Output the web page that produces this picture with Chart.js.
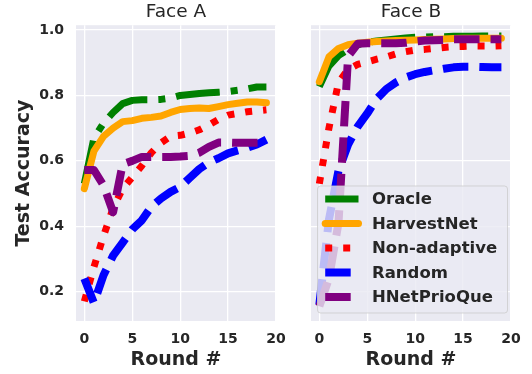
<!DOCTYPE html>
<html>
<head>
<meta charset="utf-8">
<script src="https://cdn.jsdelivr.net/npm/chart.js@4.4.0/dist/chart.umd.min.js"></script>
<style>
  html, body { margin: 0; padding: 0; background: #ffffff; }
  #wrap { position: relative; width: 532px; height: 374px; }
  #wrap canvas { position: absolute; left: 0; top: 0; }
</style>
</head>
<body>
<div id="wrap">
  <canvas id="faceA" width="532" height="374"></canvas>
  <canvas id="faceB" width="532" height="374"></canvas>
</div>
<script>
// data
var rounds = [0, 1, 2, 3, 4, 5, 6, 7, 8, 9, 10, 11, 12, 13, 14, 15, 16, 17, 18, 19];
var xTicks = [0, 5, 10, 15, 20];
var yTicks = [0.2, 0.4, 0.6, 0.8, 1.0];
var methods = ["Oracle", "HarvestNet", "Non-adaptive", "Random", "HNetPrioQue"];

var oracleA   = [0.530, 0.670, 0.715, 0.748, 0.775, 0.785, 0.787, 0.787, 0.788, 0.792, 0.800, 0.803, 0.806, 0.808, 0.810, 0.812, 0.816, 0.820, 0.826, 0.826];
var harvestA  = [0.515, 0.630, 0.675, 0.700, 0.720, 0.723, 0.730, 0.733, 0.737, 0.748, 0.757, 0.760, 0.762, 0.760, 0.766, 0.772, 0.776, 0.780, 0.780, 0.778];
var nonAdaptA = [0.170, 0.275, 0.370, 0.455, 0.515, 0.550, 0.585, 0.625, 0.655, 0.675, 0.678, 0.685, 0.695, 0.710, 0.727, 0.740, 0.745, 0.750, 0.753, 0.756];
var randomA   = [0.240, 0.165, 0.250, 0.310, 0.350, 0.390, 0.418, 0.460, 0.485, 0.505, 0.520, 0.548, 0.575, 0.595, 0.608, 0.623, 0.632, 0.640, 0.650, 0.665];
var prioA     = [0.572, 0.572, 0.525, 0.443, 0.590, 0.600, 0.612, 0.612, 0.612, 0.612, 0.613, 0.615, 0.625, 0.643, 0.656, 0.656, 0.655, 0.655, 0.655, 0.655];

var oracleB   = [0.827, 0.890, 0.922, 0.940, 0.955, 0.962, 0.967, 0.970, 0.973, 0.976, 0.978, 0.979, 0.980, 0.980, 0.981, 0.981, 0.981, 0.982, 0.982, 0.982];
var harvestB  = [0.842, 0.918, 0.944, 0.955, 0.960, 0.963, 0.965, 0.967, 0.968, 0.969, 0.970, 0.971, 0.972, 0.973, 0.974, 0.975, 0.975, 0.975, 0.975, 0.975];
var nonAdaptB = [0.530, 0.700, 0.840, 0.880, 0.895, 0.903, 0.911, 0.918, 0.927, 0.934, 0.939, 0.941, 0.944, 0.947, 0.949, 0.950, 0.951, 0.951, 0.951, 0.952];
var randomB   = [0.160, 0.420, 0.570, 0.650, 0.705, 0.745, 0.790, 0.820, 0.840, 0.855, 0.865, 0.872, 0.877, 0.882, 0.886, 0.888, 0.888, 0.887, 0.886, 0.886];
var prioB     = [0.155, 0.240, 0.410, 0.920, 0.958, 0.960, 0.960, 0.960, 0.960, 0.961, 0.965, 0.968, 0.969, 0.970, 0.972, 0.972, 0.972, 0.972, 0.972, 0.972];

Chart.defaults.font.family = "'DejaVu Sans', sans-serif";
Chart.defaults.color = "#262626";

var styles = [
  { color: "#008000", dash: [44, 11, 7, 11], width: 7, cap: "butt" },
  { color: "#FFA500", dash: [], width: 7, cap: "round" },
  { color: "#FF0000", dash: [7, 11], width: 7, cap: "butt" },
  { color: "#0000FF", dash: [25.5, 11], width: 8, cap: "butt" },
  { color: "#800080", dash: [25.5, 11], width: 8, cap: "butt" }
];

function makeDatasets(series) {
  return series.map(function (vals, i) {
    var s = styles[i];
    return {
      label: methods[i],
      data: rounds.map(function (r, k) { return { x: r, y: vals[k] }; }),
      borderColor: s.color,
      backgroundColor: s.color,
      borderWidth: s.width,
      borderDash: s.dash,
      borderCapStyle: s.cap,
      borderJoinStyle: "round",
      pointRadius: 0,
      tension: 0,
      fill: false,
      order: series.length - i
    };
  });
}

var areaBg = {
  id: "areaBg",
  beforeDraw: function (chart) {
    var a = chart.chartArea, ctx = chart.ctx;
    ctx.save();
    ctx.fillStyle = "#EAEAF2";
    ctx.fillRect(a.left, a.top, a.right - a.left, a.bottom - a.top);
    ctx.restore();
  }
};

// legend drawn inside the plot, lower left, like matplotlib
var innerLegend = {
  id: "innerLegend",
  afterDatasetsDraw: function (chart) {
    var ctx = chart.ctx, a = chart.chartArea;
    var w = 190, h = 127;
    var x = a.left + 6.5, y = a.bottom - 8 - h;
    ctx.save();
    ctx.beginPath();
    if (ctx.roundRect) ctx.roundRect(x, y, w, h, 3); else ctx.rect(x, y, w, h);
    ctx.fillStyle = "rgba(234,234,242,0.8)";
    ctx.fill();
    ctx.lineWidth = 1;
    ctx.strokeStyle = "rgba(204,204,204,0.8)";
    ctx.stroke();
    ctx.font = "bold 16.5px 'DejaVu Sans'";
    ctx.textBaseline = "middle";
    ctx.textAlign = "left";
    chart.data.datasets.forEach(function (ds, i) {
      var cy = y + 13 + i * 24.5;
      ctx.beginPath();
      ctx.setLineDash(ds.borderDash);
      ctx.lineDashOffset = 0;
      ctx.lineCap = ds.borderCapStyle;
      ctx.lineWidth = ds.borderWidth;
      ctx.strokeStyle = ds.borderColor;
      ctx.moveTo(x + 7.7, cy);
      ctx.lineTo(x + 41, cy);
      ctx.stroke();
      ctx.setLineDash([]);
      ctx.fillStyle = "#262626";
      ctx.fillText(ds.label, x + 54.5, cy + 1);
    });
    ctx.restore();
  }
};

function makeChart(id, title, series, left) {
  var plugins = [areaBg];
  if (!left) plugins.push(innerLegend);
  return new Chart(document.getElementById(id), {
    type: "line",
    data: { datasets: makeDatasets(series) },
    plugins: plugins,
    options: {
      responsive: false,
      animation: false,
      devicePixelRatio: 1,
      layout: { padding: left ? { left: 0, right: 256, top: 0, bottom: 0 } : { left: 0, right: 21, top: 0, bottom: 0 } },
      plugins: {
        legend: { display: false },
        tooltip: { enabled: false },
        title: {
          display: true,
          text: title,
          fullSize: false,
          color: "#262626",
          font: { size: 18.5, weight: "normal" },
          padding: { top: 1, bottom: 2 }
        }
      },
      scales: {
        x: {
          type: "linear",
          min: -0.87,
          max: 20,
          afterBuildTicks: function (s) { s.ticks = xTicks.map(function (v) { return { value: v }; }); },
          afterFit: function (s) { s.height = 53; },
          grid: { color: "#ffffff", lineWidth: 1.3, drawTicks: false },
          border: { display: false },
          ticks: { padding: 10, color: "#262626", font: { size: 14, weight: "bold" } },
          title: { display: true, text: "Round #", color: "#262626", padding: { top: 0, bottom: 3 }, font: { size: 19, weight: "bold" } }
        },
        y: {
          min: 0.110,
          max: 1.015,
          afterBuildTicks: function (s) { s.ticks = yTicks.map(function (v) { return { value: v }; }); },
          afterFit: function (s) { s.width = left ? 76 : 311; },
          grid: { color: "#ffffff", lineWidth: 1.3, drawTicks: false },
          border: { display: false },
          ticks: {
            display: left,
            padding: 12,
            color: "#262626",
            font: { size: 14, weight: "bold" },
            callback: function (v) { return Number(v).toFixed(1); }
          },
          title: { display: left, text: "Test Accuracy", color: "#262626", padding: { top: 12.6, bottom: 0 }, font: { size: 19, weight: "bold" } }
        }
      }
    }
  });
}

makeChart("faceA", "Face A", [oracleA, harvestA, nonAdaptA, randomA, prioA], true);
makeChart("faceB", "Face B", [oracleB, harvestB, nonAdaptB, randomB, prioB], false);
</script>
</body>
</html>
